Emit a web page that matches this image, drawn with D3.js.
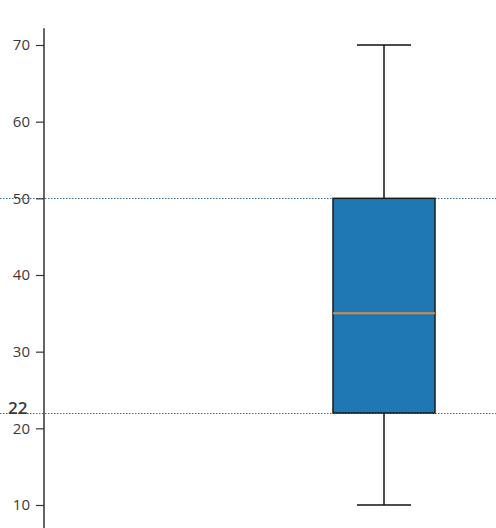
<!DOCTYPE html>
<html>
<head>
  <meta charset="utf-8" />
  <script src="https://d3js.org/d3.v7.min.js"></script>
  <style>
    * { margin: 0; padding: 0; box-sizing: border-box; }
    body { background: #fff; width: 496px; height: 528px; overflow: hidden; }
    svg { display: block; }
    .tick text { font-family: "Open Sans", "DejaVu Sans", sans-serif; font-size: 15px; fill: #3a3a3a; }
  </style>
</head>
<body>
  <svg width="496" height="528"></svg>

  <script>
    // box plot stats (min, q1, median, q3, max)
    const categories = ["A"];
    const stats = [{ min: 10, q1: 22, median: 35, q3: 50, max: 70 }];
    const yTicks = [10, 20, 30, 40, 50, 60, 70];
    // reference lines
    const refLines = [50, 22];
    const refLabel = "22";

    const svg = d3.select("svg");
    const axisX = 44;

    // y scale: 70 -> 45px, 10 -> 505px
    const y = d3.scaleLinear().domain([10, 70]).range([505, 45]);
    const x = d3.scaleBand().domain(categories).range([282, 486]).padding(1 / 3);

    // reference dotted lines (full width)
    svg.selectAll(".ref")
      .data(refLines)
      .join("line")
      .attr("class", "ref")
      .attr("x1", 0)
      .attr("x2", 496)
      .attr("y1", d => Math.round(y(d)) + 0.5)
      .attr("y2", d => Math.round(y(d)) + 0.5)
      .attr("stroke", "#3a6f9f")
      .attr("stroke-width", 1.2)
      .attr("stroke-dasharray", "1.5,1.5");

    // y axis
    const yAxis = d3.axisLeft(y).tickValues(yTicks).tickSize(8).tickPadding(6);
    const gy = svg.append("g")
      .attr("transform", `translate(${axisX},0)`)
      .call(yAxis);
    gy.select(".domain").remove();
    gy.selectAll(".tick line").attr("stroke", "#333").attr("stroke-width", 1.2);
    gy.append("line")
      .attr("x1", 0).attr("x2", 0)
      .attr("y1", y(72.2)).attr("y2", 528)
      .attr("stroke", "#333")
      .attr("stroke-width", 1.5);

    // label for ref line
    svg.append("text")
      .attr("x", 8)
      .attr("y", y(22) + 1)
      .attr("font-family", "'Open Sans', 'DejaVu Sans', sans-serif")
      .attr("font-size", 17)
      .attr("font-weight", 600)
      .attr("fill", "#333a44")
      .text(refLabel);

    // boxes
    const g = svg.append("g");
    stats.forEach((s, i) => {
      const cx = x(categories[i]) + x.bandwidth() / 2;
      const capW = x.bandwidth() * 0.53;

      // whiskers
      g.append("line")
        .attr("x1", cx).attr("x2", cx)
        .attr("y1", y(s.max)).attr("y2", y(s.q3))
        .attr("stroke", "#111").attr("stroke-width", 1.5);
      g.append("line")
        .attr("x1", cx).attr("x2", cx)
        .attr("y1", y(s.q1)).attr("y2", y(s.min))
        .attr("stroke", "#111").attr("stroke-width", 1.5);
      // caps
      [s.min, s.max].forEach(v => {
        g.append("line")
          .attr("x1", cx - capW / 2).attr("x2", cx + capW / 2)
          .attr("y1", y(v)).attr("y2", y(v))
          .attr("stroke", "#111").attr("stroke-width", 1.5);
      });
      // box
      g.append("rect")
        .attr("x", x(categories[i]))
        .attr("y", y(s.q3))
        .attr("width", x.bandwidth())
        .attr("height", y(s.q1) - y(s.q3))
        .attr("fill", "#1f77b4")
        .attr("stroke", "#1a1a1a")
        .attr("stroke-width", 1.5);
      // median
      g.append("line")
        .attr("x1", x(categories[i])).attr("x2", x(categories[i]) + x.bandwidth())
        .attr("y1", y(s.median)).attr("y2", y(s.median))
        .attr("stroke", "#e0883a").attr("stroke-width", 2);
    });
  </script>
</body>
</html>
